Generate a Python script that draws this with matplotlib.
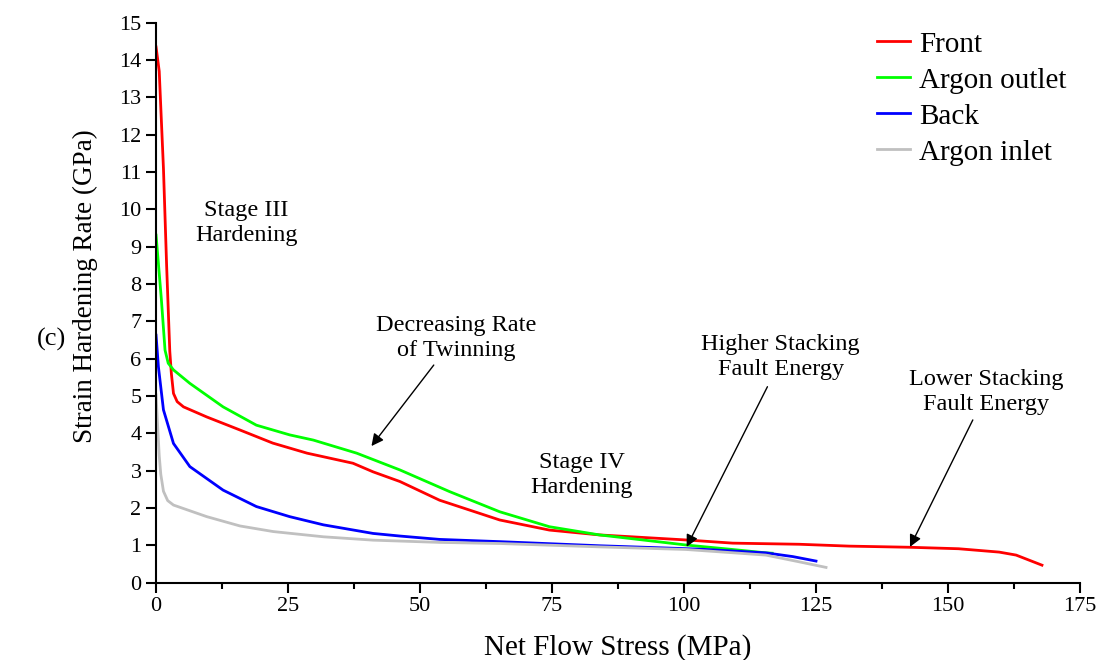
import matplotlib
matplotlib.use("Agg")
import matplotlib.pyplot as plt
from matplotlib.ticker import MultipleLocator

plt.rcParams['font.family'] = ['Liberation Serif', 'DejaVu Serif']

# Strain hardening rate (GPa) vs net flow stress (MPa)
front_x = [0, 0.6, 1.4, 2.0, 2.6, 2.9, 3.3, 4.0, 5.2, 9.6, 15.9, 22.1, 28.6, 37.3,
           41.1, 46.2, 53.7, 65.1, 74.5, 84, 101, 109.2, 121.8, 131.3, 142.6, 152,
           159.7, 162.9, 167.8]
front_y = [14.35, 13.7, 11.1, 8.5, 6.2, 5.6, 5.07, 4.85, 4.71, 4.44, 4.09, 3.74, 3.47, 3.20,
           2.97, 2.71, 2.21, 1.68, 1.41, 1.28, 1.14, 1.06, 1.03, 0.98, 0.95, 0.91,
           0.82, 0.74, 0.47]

outlet_x = [0, 1.0, 1.7, 2.3, 3.3, 6.4, 12.7, 19.0, 25.3, 29.8, 38, 46.2, 55.6, 65.1,
            74.5, 84, 100.4, 109.2, 115.5, 116.7]
outlet_y = [9.31, 7.6, 6.23, 5.88, 5.70, 5.34, 4.71, 4.22, 3.96, 3.82, 3.47, 3.02, 2.44, 1.90,
            1.50, 1.28, 1.01, 0.89, 0.80, 0.79]

back_x = [0, 0.44, 1.4, 3.3, 6.4, 12.7, 19.0, 25.3, 31.7, 41.1, 46.2, 53.7, 65.1, 84,
          102.9, 115.5, 120.6, 125]
back_y = [6.63, 5.79, 4.63, 3.73, 3.11, 2.48, 2.04, 1.77, 1.55, 1.32, 1.25, 1.16, 1.10, 0.99,
          0.90, 0.80, 0.70, 0.58]

inlet_x = [0, 0.3, 0.6, 0.9, 1.4, 2.2, 3.3, 9.6, 15.9, 22.2, 31.7, 41.1, 53.7, 65.1, 84,
           100.4, 115.5, 121.8, 126.9]
inlet_y = [5.03, 4.2, 3.4, 2.9, 2.45, 2.2, 2.08, 1.77, 1.52, 1.37, 1.23, 1.14, 1.08, 1.05, 0.96,
           0.89, 0.74, 0.56, 0.41]

fig = plt.figure(figsize=(10.99, 6.6), dpi=100)
ax = fig.add_axes([0.142, 0.1171, 0.8407, 0.8485])

ax.plot(front_x, front_y, color='#ff0000', lw=2, label='Front')
ax.plot(outlet_x, outlet_y, color='#00ff00', lw=2, label='Argon outlet')
ax.plot(back_x, back_y, color='#0000ff', lw=2, label='Back')
ax.plot(inlet_x, inlet_y, color='#c0c0c0', lw=2, label='Argon inlet')

ax.set_xlim(0, 175)
ax.set_ylim(0, 15)
ax.xaxis.set_major_locator(MultipleLocator(25))
ax.xaxis.set_minor_locator(MultipleLocator(12.5))
ax.yaxis.set_major_locator(MultipleLocator(1))

for s in ['top', 'right']:
    ax.spines[s].set_visible(False)
for s in ['left', 'bottom']:
    ax.spines[s].set_linewidth(1.5)
ax.tick_params(which='major', direction='out', length=7, width=1.5, labelsize=16)
ax.tick_params(which='minor', direction='out', length=4, width=1.5)

ax.set_xlabel('Net Flow Stress (MPa)', fontsize=21, labelpad=13)
ax.set_ylabel('Strain Hardening Rate (GPa)', fontsize=19.5)
ax.yaxis.set_label_coords(-0.0628, 0.529)

ax.legend(loc='upper left', bbox_to_anchor=(0.780, 0.985), frameon=False, fontsize=21,
          handlelength=1.15, handletextpad=0.3, labelspacing=0.33,
          borderpad=0, borderaxespad=0)

# annotations
fs = 17.5
ls = 1.25
ax.text(17.1, 9.64, 'Stage III\nHardening', ha='center', va='center', fontsize=fs, linespacing=ls)
ax.text(80.6, 2.89, 'Stage IV\nHardening', ha='center', va='center', fontsize=fs, linespacing=ls)
arrow = dict(arrowstyle='-|>', color='black', lw=1, mutation_scale=18, shrinkA=0, shrinkB=0)
ax.text(56.9, 6.56, 'Decreasing Rate\nof Twinning', ha='center', va='center', fontsize=fs, linespacing=ls)
ax.annotate('', xy=(40.8, 3.66), xytext=(52.6, 5.83), arrowprops=arrow)
ax.text(118.3, 6.04, 'Higher Stacking\nFault Energy', ha='center', va='center', fontsize=fs, linespacing=ls)
ax.annotate('', xy=(100.5, 0.96), xytext=(115.8, 5.25), arrowprops=arrow)
ax.text(157.2, 5.11, 'Lower Stacking\nFault Energy', ha='center', va='center', fontsize=fs, linespacing=ls)
ax.annotate('', xy=(142.8, 0.96), xytext=(154.7, 4.36), arrowprops=arrow)

fig.text(0.0473, 0.485, '(c)', ha='center', va='center', fontsize=19)

fig.savefig('out.png', dpi=100)
